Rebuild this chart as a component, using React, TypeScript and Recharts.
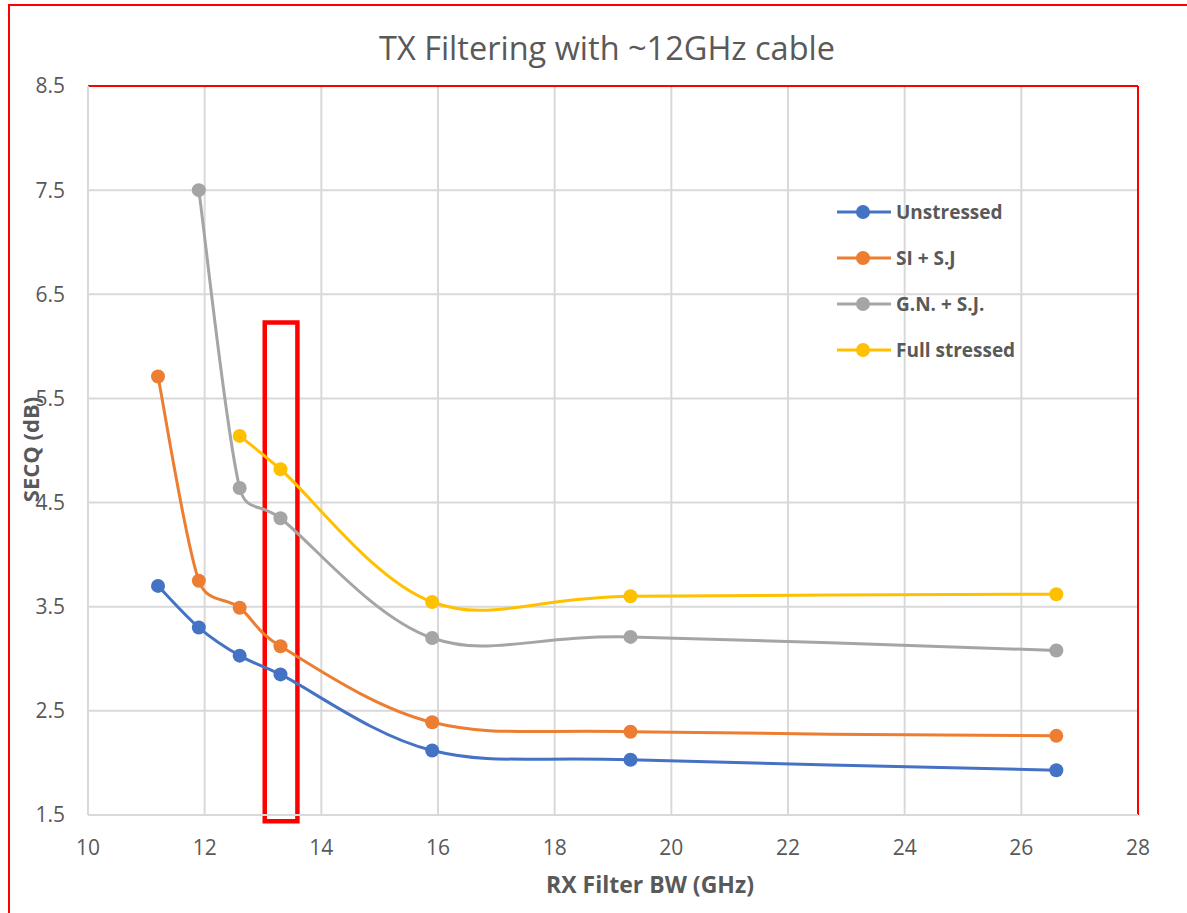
import React from 'react';
import {
  LineChart,
  Line,
  XAxis,
  YAxis,
  CartesianGrid,
  ReferenceLine,
  ReferenceArea,
} from 'recharts';

// RX filter bandwidth (GHz) at which SECQ was measured
const rxBw = [11.2, 11.9, 12.6, 13.3, 15.9, 19.3, 26.6];

// SECQ (dB) per stress condition; null = not measured at that bandwidth
const unstressed = [3.7, 3.3, 3.03, 2.85, 2.12, 2.03, 1.93];
const siSj = [5.71, 3.75, 3.49, 3.12, 2.39, 2.3, 2.26];
const gnSj: (number | null)[] = [null, 7.5, 4.64, 4.35, 3.2, 3.21, 3.08];
const fullStressed: (number | null)[] = [null, null, 5.14, 4.82, 3.545, 3.6, 3.62];

const xTicks = [10, 12, 14, 16, 18, 20, 22, 24, 26, 28];
const yTicks = [1.5, 2.5, 3.5, 4.5, 5.5, 6.5, 7.5, 8.5];

// highlighted bandwidth window around the 13.3 GHz measurement
const highlightX = [13.03, 13.59];
const highlightY = [1.44, 6.23];

const seriesDefs = [
  { key: 'unstressed', name: 'Unstressed', color: '#4472C4', values: unstressed },
  { key: 'siSj', name: 'SI + S.J', color: '#ED7D31', values: siSj },
  { key: 'gnSj', name: 'G.N. + S.J.', color: '#A5A5A5', values: gnSj },
  { key: 'fullStressed', name: 'Full stressed', color: '#FFC000', values: fullStressed },
];

const data = rxBw.map((bw, i) => {
  const row: Record<string, number | null> = { bw };
  seriesDefs.forEach((s) => {
    row[s.key] = s.values[i] ?? null;
  });
  return row;
});

const FONT = '"Open Sans", "Noto Sans", sans-serif';
const TEXT = '#595959';
const GRID = '#D9D9D9';

const dist = (a: [number, number], b: [number, number]) =>
  Math.hypot(b[0] - a[0], b[1] - a[1]);

// Smoothed line through the points: cubic Bezier segments with Catmull-Rom
// tangents (factor 1/6), each control arm limited to half the segment length
function smoothCurve(context: any) {
  let pts: [number, number][] = [];
  return {
    areaStart() {},
    areaEnd() {},
    lineStart() {
      pts = [];
    },
    lineEnd() {
      const n = pts.length;
      if (!n) return;
      context.moveTo(pts[0][0], pts[0][1]);
      if (n === 1) {
        context.lineTo(pts[0][0], pts[0][1]);
        return;
      }
      const base = 1 / 6;
      for (let i = 0; i < n - 1; i++) {
        const p0 = pts[Math.max(0, i - 1)];
        const p1 = pts[i];
        const p2 = pts[i + 1];
        const p3 = pts[Math.min(n - 1, i + 2)];
        const d12 = dist(p1, p2);
        const d02 = dist(p0, p2);
        const d13 = dist(p1, p3);
        const f0 = d02 > 0 ? Math.min(base, d12 / 2 / d02) : base;
        const f1 = d13 > 0 ? Math.min(base, d12 / 2 / d13) : base;
        context.bezierCurveTo(
          p1[0] + (p2[0] - p0[0]) * f0,
          p1[1] + (p2[1] - p0[1]) * f0,
          p2[0] - (p3[0] - p1[0]) * f1,
          p2[1] - (p3[1] - p1[1]) * f1,
          p2[0],
          p2[1]
        );
      }
    },
    point(x: number, y: number) {
      pts.push([+x, +y]);
    },
  };
}

const ChartLegend = () => (
  <div
    style={{
      position: 'absolute',
      left: 836,
      top: 189,
      fontFamily: FONT,
    }}
  >
    {seriesDefs.map((s) => (
      <div
        key={s.key}
        style={{ display: 'flex', alignItems: 'center', height: 46 }}
      >
        <svg width={56} height={16} style={{ display: 'block' }}>
          <line x1={1} y1={8} x2={55} y2={8} stroke={s.color} strokeWidth={3} />
          <circle cx={27} cy={8} r={7} fill={s.color} />
        </svg>
        <span
          style={{
            marginLeft: 4,
            fontSize: 19,
            fontWeight: 700,
            color: TEXT,
            whiteSpace: 'nowrap',
          }}
        >
          {s.name}
        </span>
      </div>
    ))}
  </div>
);

const YTitle = (props: any) => {
  const { viewBox } = props;
  const x = viewBox.x + 30;
  const y = viewBox.y + viewBox.height / 2 - 1;
  return (
    <text
      x={x}
      y={y}
      transform={`rotate(-90, ${x}, ${y})`}
      textAnchor="middle"
      dominantBaseline="central"
      fontFamily={FONT}
      fontSize={22}
      fontWeight={700}
      fill={TEXT}
    >
      SECQ (dB)
    </text>
  );
};

const XTitle = (props: any) => {
  const { viewBox } = props;
  return (
    <text
      x={viewBox.x + viewBox.width / 2 + 37}
      y={viewBox.y + 78}
      textAnchor="middle"
      fontFamily={FONT}
      fontSize={23}
      fontWeight={700}
      fill={TEXT}
    >
      RX Filter BW (GHz)
    </text>
  );
};

export default function App() {
  return (
    <div
      style={{
        position: 'absolute',
        left: 0,
        top: 0,
        width: 1187,
        height: 913,
        background: '#fff',
        overflow: 'hidden',
      }}
    >
      <div
        style={{
          position: 'absolute',
          left: 8,
          top: 4,
          width: 1220,
          height: 940,
          border: '2px solid #FF0000',
          boxSizing: 'border-box',
        }}
      />
      <div
        style={{
          position: 'absolute',
          left: 0,
          top: 26,
          width: 1214,
          textAlign: 'center',
          fontFamily: FONT,
          fontSize: 32.5,
          color: TEXT,
          lineHeight: '44px',
        }}
      >
        TX Filtering with ~12GHz cable
      </div>
      <div style={{ position: 'absolute', left: 0, top: 0 }}>
        <LineChart
          width={1187}
          height={913}
          data={data}
          margin={{ top: 86, right: 49, left: 0, bottom: 0 }}
        >
          <CartesianGrid stroke={GRID} strokeWidth={2} />
          <XAxis
            type="number"
            dataKey="bw"
            domain={[10, 28]}
            ticks={xTicks}
            height={98}
            stroke={GRID}
            strokeWidth={2}
            tickLine={false}
            tick={{ fill: TEXT, fontSize: 21, fontFamily: FONT }}
            tickMargin={19}
            label={<XTitle />}
          />
          <YAxis
            type="number"
            domain={[1.5, 8.5]}
            ticks={yTicks}
            width={88}
            stroke={GRID}
            strokeWidth={2}
            tickLine={false}
            tick={{ fill: TEXT, fontSize: 21, fontFamily: FONT }}
            tickMargin={17}
            tickFormatter={(v: number) => v.toFixed(1)}
            label={<YTitle />}
          />
          <ReferenceLine y={8.5} stroke="#FF0000" strokeWidth={2} />
          <ReferenceLine x={28} stroke="#FF0000" strokeWidth={2} />
          {seriesDefs.map((s) => (
            <Line
              key={s.key}
              dataKey={s.key}
              name={s.name}
              type={smoothCurve as any}
              stroke={s.color}
              strokeWidth={3}
              dot={{ r: 7, fill: s.color, stroke: s.color, strokeWidth: 0 }}
              activeDot={false}
              isAnimationActive={false}
            />
          ))}
          <ReferenceArea
            x1={highlightX[0]}
            x2={highlightX[1]}
            y1={highlightY[0]}
            y2={highlightY[1]}
            fill="none"
            fillOpacity={0}
            stroke="#FF0000"
            strokeWidth={4.5}
            ifOverflow="visible"
          />
        </LineChart>
      </div>
      <ChartLegend />
    </div>
  );
}
